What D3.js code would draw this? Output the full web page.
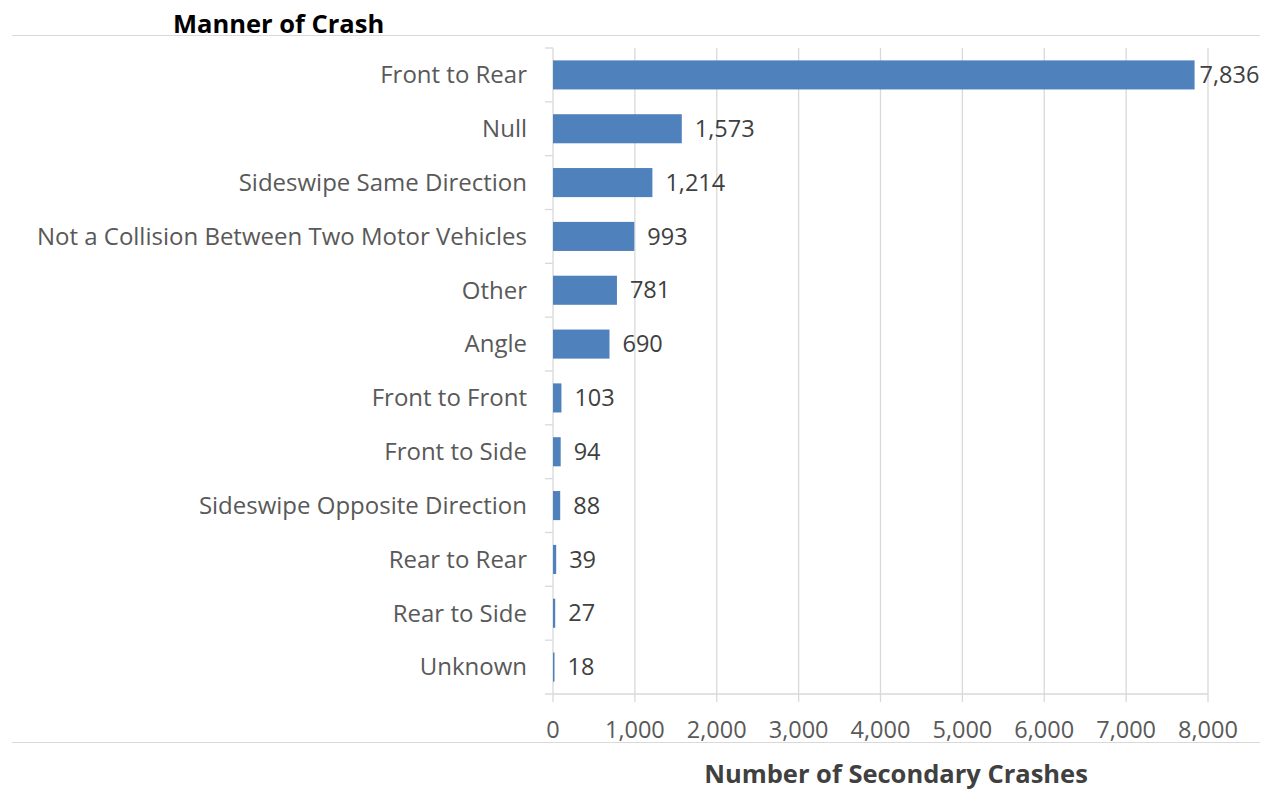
<!DOCTYPE html>
<meta charset="utf-8">
<style>
body { margin: 0; background: #fff; }
svg { font-family: "Open Sans", Lato, sans-serif; }
.grid line { stroke: #d9d9d9; stroke-width: 1.3px; }
.cat text { fill: #595959; font-size: 24px; }
.tick-label { fill: #595959; font-size: 23.5px; }
.value { fill: #404040; font-size: 23.5px; }
.title { fill: #000; font-size: 25.5px; font-weight: bold; }
.axis-title { fill: #404040; font-size: 25.5px; font-weight: bold; }
</style>
<svg width="1271" height="789"></svg>
<script src="https://cdn.jsdelivr.net/npm/d3@7"></script>
<script>

var categories = ["Front to Rear", "Null", "Sideswipe Same Direction",
    "Not a Collision Between Two Motor Vehicles", "Other", "Angle",
    "Front to Front", "Front to Side", "Sideswipe Opposite Direction",
    "Rear to Rear", "Rear to Side", "Unknown"];
var crashes = [7836, 1573, 1214, 993, 781, 690, 103, 94, 88, 39, 27, 18];
var xTicks = [0, 1000, 2000, 3000, 4000, 5000, 6000, 7000, 8000];

var svg = d3.select("svg"),
    margin = {top: 48, left: 553, right: 63, bottom: 95},
    width = 1271 - margin.left - margin.right,
    height = 789 - margin.top - margin.bottom,
    g = svg.append("g").attr("transform", "translate(" + margin.left + "," + margin.top + ")");

var x = d3.scaleLinear().domain([0, 8000]).range([0, width]);
var y = d3.scaleBand().domain(categories).range([0, height]).paddingInner(0.46).paddingOuter(0.23);

var fmt = d3.format(",");

// frame lines top and bottom
svg.append("line").attr("x1", 12).attr("x2", 1260).attr("y1", 35.5).attr("y2", 35.5)
    .attr("stroke", "#d9d9d9").attr("stroke-width", 1.2);
svg.append("line").attr("x1", 12).attr("x2", 1260).attr("y1", 742.5).attr("y2", 742.5)
    .attr("stroke", "#d9d9d9").attr("stroke-width", 1.2);

// vertical gridlines (extend below baseline as tick marks)
g.append("g").attr("class", "grid")
  .selectAll("line").data(xTicks).enter().append("line")
    .attr("x1", function(d) { return x(d); })
    .attr("x2", function(d) { return x(d); })
    .attr("y1", 0)
    .attr("y2", height + 8);

// baseline
g.append("line").attr("x1", -8).attr("x2", width).attr("y1", height).attr("y2", height)
    .attr("stroke", "#d9d9d9").attr("stroke-width", 1.3);

// category axis with boundary ticks
var bounds = d3.range(categories.length).map(function(i) { return i * height / categories.length; });
g.append("g").attr("class", "grid")
  .selectAll("line").data(bounds).enter().append("line")
    .attr("x1", -8).attr("x2", 0)
    .attr("y1", function(d) { return d; })
    .attr("y2", function(d) { return d; });

var cat = g.append("g").attr("class", "cat");
cat.selectAll("text").data(categories).enter().append("text")
    .attr("x", -26)
    .attr("y", function(d) { return y(d) + y.bandwidth() / 2; })
    .attr("dy", "0.35em")
    .attr("text-anchor", "end")
    .text(function(d) { return d; });

// bars
var rows = categories.map(function(c, i) { return {name: c, value: crashes[i]}; });
g.selectAll(".bar").data(rows).enter().append("rect")
    .attr("class", "bar")
    .attr("x", 0)
    .attr("y", function(d) { return y(d.name); })
    .attr("width", function(d) { return Math.max(1.5, x(d.value)); })
    .attr("height", y.bandwidth())
    .attr("fill", "#4f81bd");

// value labels
g.selectAll(".value").data(rows).enter().append("text")
    .attr("class", "value")
    .attr("y", function(d) { return y(d.name) + y.bandwidth() / 2; })
    .attr("dy", "0.35em")
    .text(function(d) { return fmt(d.value); })
    .attr("x", function(d) {
      var w = this.getComputedTextLength();
      var px = x(d.value) + 13;
      var limit = 1262 - margin.left;
      return px + w > limit ? x(d.value) + 5 : px;
    });

// x tick labels
g.selectAll(".tick-label").data(xTicks).enter().append("text")
    .attr("class", "tick-label")
    .attr("x", function(d) { return x(d); })
    .attr("y", height + 36)
    .attr("dy", "0.35em")
    .attr("text-anchor", "middle")
    .text(function(d) { return fmt(d); });

// titles
svg.append("text").attr("class", "title").attr("x", 173).attr("y", 33).text("Manner of Crash");
svg.append("text").attr("class", "axis-title").attr("x", 896).attr("y", 783)
    .attr("text-anchor", "middle").text("Number of Secondary Crashes");

</script>
